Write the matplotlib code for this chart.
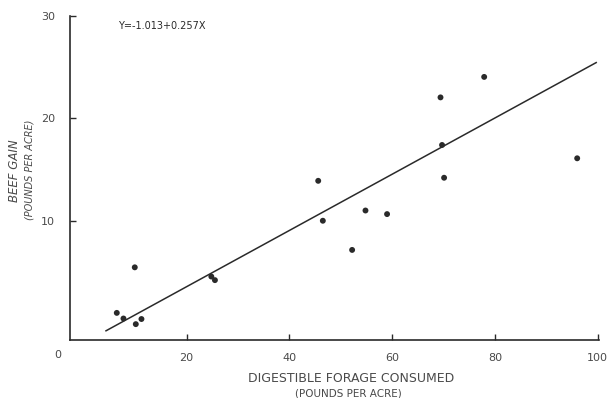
import matplotlib
matplotlib.use('Agg')
import matplotlib.pyplot as plt

# digestible forage consumed (lb/acre) vs beef gain (lb/acre)
forage = [9.9, 6.4, 7.7, 10.1, 11.2, 24.8, 25.5, 46.5, 54.8, 59.0, 52.2,
          45.6, 69.4, 77.9, 69.7, 70.1, 96.0]
gain = [5.45, 1.0, 0.45, -0.1, 0.4, 4.55, 4.2, 10.0, 11.0, 10.65, 7.15,
        13.9, 22.05, 24.05, 17.4, 14.2, 16.1]

# regression line as drawn in the original figure
fit_x = [4.3, 99.7]
fit_y = [-0.75, 25.45]
equation = 'Y=-1.013+0.257X'

x_ticks = [20, 40, 60, 80, 100]
y_ticks = [10, 20, 30]

ink = '#2a2a2a'
text_col = '#4a4a4a'

fig = plt.figure(figsize=(6.1, 3.98), dpi=100)
ax = fig.add_axes([0.1148, 0.1457, 0.8672, 0.8141])

ax.plot(fit_x, fit_y, color=ink, lw=1.1)
ax.scatter(forage, gain, s=18, color=ink, zorder=3, edgecolors='none')

ax.set_xlim(-2.7, 100.25)
ax.set_ylim(-1.65, 30)
ax.set_xticks(x_ticks)
ax.set_yticks(y_ticks)
ax.set_xticklabels([str(t) for t in x_ticks], color=text_col, fontsize=8)
ax.set_yticklabels([str(t) for t in y_ticks], color=text_col, fontsize=8)
ax.tick_params(axis='both', direction='in', length=4, width=1.0, color=ink,
               labelcolor=text_col)
ax.tick_params(axis='x', pad=9)
ax.tick_params(axis='y', pad=11)

for side in ['top', 'right']:
    ax.spines[side].set_visible(False)
for side in ['left', 'bottom']:
    ax.spines[side].set_color(ink)
    ax.spines[side].set_linewidth(1.2)

# lone origin label at the lower-left corner
fig.text(58 / 610, 1 - 355 / 398, '0', color=text_col, fontsize=8,
         ha='center', va='center')

ax.text(0.09, 0.97, equation, transform=ax.transAxes, fontsize=7,
        color=ink, ha='left', va='center')

fig.text(351 / 610, 1 - 379 / 398, 'DIGESTIBLE FORAGE CONSUMED', color=text_col,
         fontsize=9, ha='center', va='center')
fig.text(348 / 610, 1 - 393 / 398, '(POUNDS PER ACRE)', color=text_col,
         fontsize=7.5, ha='center', va='center')

fig.text(15 / 610, 1 - 171 / 398, 'BEEF GAIN', color=text_col, fontsize=8.5,
         style='italic', rotation=90, ha='center', va='center')
fig.text(29 / 610, 1 - 170 / 398, '(POUNDS PER ACRE)', color=text_col,
         fontsize=7, style='italic', rotation=90, ha='center', va='center')

plt.savefig('out.png', dpi=100)
